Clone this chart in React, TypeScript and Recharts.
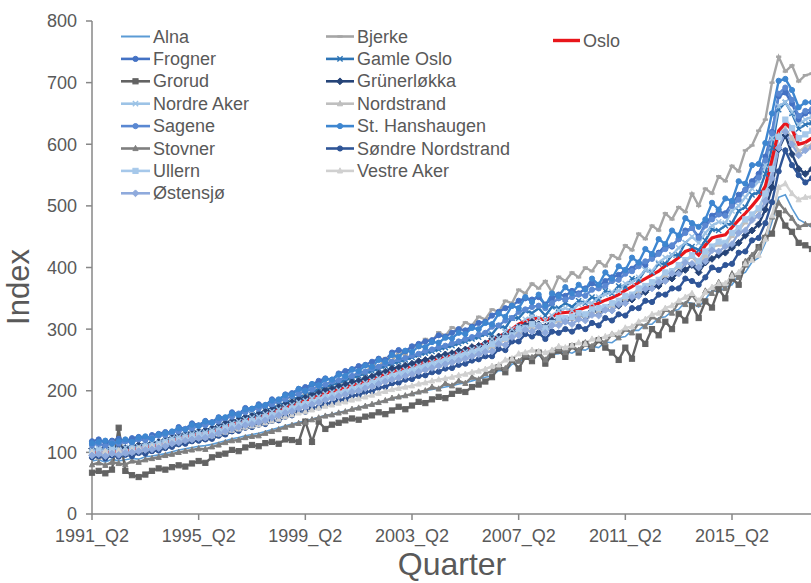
import React from 'react';
import { LineChart, Line, XAxis, YAxis, Legend, Label } from 'recharts';

// Quarter categories 1991_Q2 .. 2018_Q2
const quarters: string[] = [];
for (let y = 1991; y <= 2018; y++) {
  for (let q = 1; q <= 4; q++) {
    if (y === 1991 && q < 2) continue;
    if (y === 2018 && q > 2) continue;
    quarters.push(`${y}_Q${q}`);
  }
}
const xTickLabels = ['1991_Q2', '1995_Q2', '1999_Q2', '2003_Q2', '2007_Q2', '2011_Q2', '2015_Q2'];
const yTicks = [0, 100, 200, 300, 400, 500, 600, 700, 800];

const alna = [86,88,84,89,86,88,90,89,93,94,
96,98,101,104,106,108,110,111,113,116,
119,122,124,127,129,131,134,137,140,143,
146,149,151,154,157,160,162,165,167,170,
173,175,178,181,184,187,189,192,194,197,
200,202,204,206,208,211,213,216,219,222,
224,233,232,243,246,254,252,258,250,259,
260,264,261,267,266,272,270,279,278,286,
288,298,298,308,308,318,320,329,332,344,
342,336,348,363,360,368,372,388,392,409,
416,440,474,514,518,496,478,472,465];

const bjerke = [95,90,99,93,100,95,103,98,106,104,
110,108,118,114,124,120,129,125,136,133,
145,141,152,148,160,155,168,163,176,171,
186,181,195,190,205,199,213,208,223,218,
233,228,243,238,253,249,263,258,274,270,
284,280,295,289,303,298,311,306,320,316,
332,328,346,342,364,358,374,366,378,360,
385,378,392,384,400,394,410,402,420,414,
436,428,455,446,468,460,488,478,498,490,
520,500,528,520,548,540,565,556,590,598,
622,640,700,742,718,728,702,712,715];

const frogner = [118,121,116,119,122,118,123,125,121,128,
130,133,131,141,138,147,144,151,149,157,
155,165,162,172,170,178,176,186,184,194,
196,203,206,210,216,220,218,228,232,235,
240,242,247,252,250,262,266,264,272,276,
280,282,290,288,294,300,298,304,310,312,
322,328,334,338,346,350,348,352,340,350,
356,354,362,358,366,374,370,378,384,388,
396,398,408,404,418,424,436,434,446,460,
464,450,470,484,490,488,504,518,526,540,
552,580,620,678,684,666,640,650,652];

const gamleOslo = [98,102,97,103,101,99,106,104,108,110,
113,114,121,120,128,127,132,133,137,140,
146,148,154,155,161,162,168,171,177,180,
186,189,194,197,203,206,210,213,217,221,
224,228,232,236,240,244,247,250,254,258,
261,264,267,270,273,277,280,284,287,292,
292,305,302,318,318,330,326,334,322,336,
334,342,336,346,342,352,348,362,358,370,
368,382,380,396,392,406,406,420,420,440,
434,428,444,462,460,468,472,492,498,518,
522,552,594,656,668,650,625,632,635];

const grorud = [67,70,66,72,140,70,63,60,64,70,
74,72,76,79,77,82,86,83,92,96,
98,104,102,108,112,110,115,117,114,121,
120,117,150,117,150,138,145,148,152,155,
153,158,160,165,162,168,174,170,176,182,
180,186,190,188,195,200,198,206,210,215,
222,238,230,250,236,255,248,262,244,258,
265,255,272,262,276,268,282,270,262,250,
270,252,288,276,300,290,312,300,325,314,
338,318,345,335,365,350,382,372,405,415,
433,448,455,488,468,458,440,436,430];

const grunerlokka = [106,104,108,105,109,107,110,112,113,116,
117,121,124,128,130,133,134,136,139,143,
147,151,153,157,159,162,166,170,173,178,
181,186,188,193,196,201,203,207,210,214,
216,220,223,228,231,236,238,241,244,248,
250,253,256,259,261,265,267,271,273,277,
284,288,292,296,304,306,312,308,304,314,
316,314,318,324,320,330,328,332,340,338,
346,348,356,360,368,370,380,382,392,396,
404,392,408,414,420,424,432,440,452,460,
470,494,530,592,615,584,560,552,560];

const nordreAker = [104,106,103,107,105,108,110,109,113,115,
116,119,123,125,128,130,132,133,136,140,
143,147,150,153,156,158,162,166,170,174,
177,181,184,188,191,195,198,201,204,208,
210,213,217,221,225,229,231,234,237,241,
243,247,250,253,256,260,263,267,270,274,
284,286,296,300,304,316,320,318,314,322,
330,334,330,340,344,342,352,356,360,362,
374,376,384,396,394,408,416,420,432,440,
450,440,456,468,474,472,492,500,514,528,
540,566,610,662,668,652,632,640,645];

const nordstrand = [94,96,93,97,95,98,99,101,103,105,
106,110,113,116,119,121,123,124,127,130,
134,138,141,144,147,149,153,156,160,164,
168,172,175,179,182,186,189,192,195,199,
201,205,208,212,216,219,222,225,228,232,
235,238,241,244,247,251,254,258,261,265,
272,276,284,286,296,300,304,306,300,308,
314,314,318,320,322,326,330,334,338,343,
350,354,362,368,374,378,388,394,402,410,
418,404,420,432,438,436,452,460,474,484,
494,520,560,614,625,610,588,596,600];

const sagene = [112,114,110,116,114,118,116,121,120,124,
127,128,133,134,138,139,143,144,148,150,
156,158,163,165,170,171,176,178,184,186,
192,195,200,202,208,210,215,217,222,224,
229,231,236,239,244,247,251,253,257,260,
265,267,271,273,277,280,284,287,291,294,
304,306,314,318,328,332,336,338,334,342,
350,348,352,356,354,364,366,370,378,380,
390,394,402,410,414,422,430,436,446,456,
464,448,468,478,486,484,500,510,526,534,
546,574,618,682,692,672,646,654,657];

const stHanshaugen = [115,117,119,114,118,121,117,124,126,122,
129,131,134,139,137,145,143,150,148,156,
157,163,161,170,171,176,177,184,186,193,
194,203,200,211,209,219,218,226,224,234,
232,241,239,250,247,258,255,265,263,272,
271,279,278,286,285,294,292,302,300,310,
308,325,320,338,334,352,344,356,338,358,
354,368,358,372,364,382,372,392,382,402,
396,416,408,430,422,446,438,460,452,480,
472,466,478,505,494,512,508,540,536,566,
568,602,650,703,706,688,660,668,668];

const stovner = [80,83,79,84,82,80,86,84,88,90,
92,95,97,100,102,104,106,105,109,112,
116,119,120,124,126,127,131,134,137,141,
144,147,149,153,156,159,161,164,166,170,
172,175,178,181,184,188,190,192,195,198,
200,206,203,212,208,216,212,222,218,228,
232,238,236,250,248,258,254,262,250,264,
268,262,272,266,278,272,284,278,292,286,
300,294,310,304,320,314,332,326,344,340,
356,340,362,358,376,366,390,384,410,420,
432,450,482,505,492,480,465,470,470];

const sondreNordstrand = [92,94,90,95,93,96,94,99,98,102,
103,107,109,113,114,118,119,121,122,127,
129,134,135,140,141,145,146,151,152,158,
160,166,166,172,173,179,180,185,186,192,
193,198,199,205,206,212,213,218,219,224,
225,230,231,236,237,242,244,249,251,256,
256,268,266,280,280,292,288,294,284,296,
294,300,296,304,300,310,306,318,314,324,
322,334,334,346,344,356,356,366,366,382,
378,372,384,400,396,404,406,424,426,444,
448,472,506,556,590,566,550,538,545];

const ullern = [100,103,99,104,102,100,106,105,109,110,
113,116,119,121,124,126,128,129,132,135,
139,143,145,148,151,153,157,160,164,168,
171,175,178,182,185,189,192,195,198,202,
205,208,212,216,219,223,226,229,232,236,
239,242,245,248,251,255,258,262,265,269,
276,280,286,290,300,302,308,306,302,310,
318,318,320,326,324,332,334,336,342,346,
354,356,366,370,376,380,392,394,404,412,
420,410,426,434,442,440,456,464,478,486,
496,520,560,612,640,626,610,616,622];

const vestreAker = [100,98,102,99,103,101,104,106,107,109,
110,113,116,118,121,122,124,125,127,130,
133,136,138,141,143,145,148,151,154,158,
161,164,166,169,172,175,177,180,182,185,
187,190,193,196,199,202,204,206,208,211,
213,216,218,220,222,225,227,230,232,235,
240,242,250,252,260,262,266,264,262,266,
272,270,274,278,276,284,284,288,292,294,
302,304,312,316,324,326,334,338,346,352,
358,346,360,368,374,374,386,392,406,412,
420,446,484,530,536,520,510,514,515];

const ostensjo = [95,97,94,98,96,99,100,102,104,105,
107,110,114,116,119,121,123,124,127,131,
134,138,141,144,146,149,152,156,160,164,
167,171,174,178,181,185,188,191,194,198,
200,204,207,211,215,218,221,224,227,231,
234,237,240,243,246,249,252,256,259,263,
264,276,274,287,290,299,296,304,294,306,
306,312,308,316,314,323,322,331,330,340,
342,352,354,365,366,376,378,390,390,408,
406,400,410,428,426,434,438,456,460,477,
484,508,545,594,620,600,582,590,595];

const oslo = [100,100,100,101,102,103,105,107,109,111,
112,116,120,123,126,128,130,131,134,138,
142,146,149,152,155,157,161,165,169,173,
177,181,184,188,192,196,199,202,205,209,
212,215,219,223,227,231,234,237,240,244,
247,250,253,256,259,263,266,270,273,277,
282,288,293,300,308,313,316,318,314,320,
326,327,328,331,335,338,342,347,351,356,
363,369,376,382,388,394,403,408,416,426,
430,420,436,448,451,453,465,477,488,500,
513,532,575,622,634,624,600,603,610];

type Shape = 'none' | 'circle' | 'square' | 'diamond' | 'triangle' | 'x' | 'plus' | 'dash';
interface Series { key: string; name: string; values: number[]; color: string; width: number; marker: Shape; }

const series: Series[] = [
  { key: 'alna', name: 'Alna', values: alna, color: '#5B9BD5', width: 1.6, marker: 'none' },
  { key: 'bjerke', name: 'Bjerke', values: bjerke, color: '#A5A5A5', width: 2.4, marker: 'dash' },
  { key: 'frogner', name: 'Frogner', values: frogner, color: '#4472C4', width: 2.4, marker: 'circle' },
  { key: 'gamleOslo', name: 'Gamle Oslo', values: gamleOslo, color: '#2E75B6', width: 2.4, marker: 'x' },
  { key: 'grorud', name: 'Grorud', values: grorud, color: '#636363', width: 2.4, marker: 'square' },
  { key: 'grunerlokka', name: 'Grünerløkka', values: grunerlokka, color: '#264478', width: 2.4, marker: 'diamond' },
  { key: 'nordreAker', name: 'Nordre Aker', values: nordreAker, color: '#9DC3E6', width: 2.4, marker: 'x' },
  { key: 'nordstrand', name: 'Nordstrand', values: nordstrand, color: '#BFBFBF', width: 2.4, marker: 'triangle' },
  { key: 'sagene', name: 'Sagene', values: sagene, color: '#5A88D2', width: 2.4, marker: 'circle' },
  { key: 'stHanshaugen', name: 'St. Hanshaugen', values: stHanshaugen, color: '#3E86D0', width: 2.4, marker: 'circle' },
  { key: 'stovner', name: 'Stovner', values: stovner, color: '#7F7F7F', width: 2.4, marker: 'triangle' },
  { key: 'sondreNordstrand', name: 'Søndre Nordstrand', values: sondreNordstrand, color: '#2F5597', width: 2.4, marker: 'circle' },
  { key: 'ullern', name: 'Ullern', values: ullern, color: '#A6C8EA', width: 2.4, marker: 'square' },
  { key: 'vestreAker', name: 'Vestre Aker', values: vestreAker, color: '#D0D0D0', width: 2.4, marker: 'triangle' },
  { key: 'ostensjo', name: 'Østensjø', values: ostensjo, color: '#8FAADC', width: 2.4, marker: 'diamond' },
  { key: 'oslo', name: 'Oslo', values: oslo, color: '#E8161B', width: 3.2, marker: 'none' },
];

const legendCol1 = ['Alna', 'Frogner', 'Grorud', 'Nordre Aker', 'Sagene', 'Stovner', 'Ullern', 'Østensjø'];
const legendCol2 = ['Bjerke', 'Gamle Oslo', 'Grünerløkka', 'Nordstrand', 'St. Hanshaugen', 'Søndre Nordstrand', 'Vestre Aker'];
const legendCol3 = ['Oslo'];

const data = quarters.map((q, i) => {
  const row: Record<string, any> = { q };
  series.forEach((s) => { row[s.key] = s.values[i]; });
  return row;
});

const FONT = '"Liberation Sans", Arial, sans-serif';
const TEXT = '#595959';
const AXIS = '#878787';

function MarkerShape({ shape, cx, cy, color, s }: { shape: Shape; cx: number; cy: number; color: string; s: number }) {
  switch (shape) {
    case 'circle':
      return <circle cx={cx} cy={cy} r={s} fill={color} stroke={color} strokeWidth={1} />;
    case 'square':
      return <rect x={cx - s} y={cy - s} width={2 * s} height={2 * s} fill={color} stroke={color} strokeWidth={1} />;
    case 'diamond':
      return <polygon points={`${cx},${cy - s - 0.8} ${cx + s + 0.8},${cy} ${cx},${cy + s + 0.8} ${cx - s - 0.8},${cy}`} fill={color} stroke={color} strokeWidth={1} />;
    case 'triangle':
      return <polygon points={`${cx},${cy - s - 0.5} ${cx + s},${cy + s - 0.5} ${cx - s},${cy + s - 0.5}`} fill={color} stroke={color} strokeWidth={1} />;
    case 'x':
      return (
        <g stroke={color} strokeWidth={1.4}>
          <line x1={cx - s} y1={cy - s} x2={cx + s} y2={cy + s} />
          <line x1={cx - s} y1={cy + s} x2={cx + s} y2={cy - s} />
        </g>
      );
    case 'plus':
      return (
        <g stroke={color} strokeWidth={1.4}>
          <line x1={cx - s} y1={cy} x2={cx + s} y2={cy} />
          <line x1={cx} y1={cy - s} x2={cx} y2={cy + s} />
        </g>
      );
    case 'dash':
      return <line x1={cx - s} y1={cy} x2={cx + s} y2={cy} stroke={color} strokeWidth={2.4} />;
    default:
      return null;
  }
}

const makeDot = (shape: Shape, color: string) => (props: any) => {
  const { cx, cy, index } = props;
  if (cx == null || cy == null || isNaN(cx) || isNaN(cy)) return <g key={`d${index}`} />;
  return (
    <g key={`d${index}`}>
      <MarkerShape shape={shape} cx={cx} cy={cy} color={color} s={2.6} />
    </g>
  );
};

const byName = (n: string) => series.find((s) => s.name === n) as Series;

const LegendItem = ({ name, x, y, len }: { name: string; x: number; y: number; len: number }) => {
  const s = byName(name);
  return (
    <g>
      <line x1={x} y1={y} x2={x + len} y2={y} stroke={s.color} strokeWidth={s.key === 'oslo' ? 3.4 : s.key === 'alna' ? 2 : 2.6} />
      {s.marker !== 'none' && <MarkerShape shape={s.marker} cx={x + len / 2} cy={y} color={s.color} s={2.6} />}
      <text x={x + len + 3} y={y} dominantBaseline="central" fontFamily={FONT} fontSize={18} fill={TEXT}>{name}</text>
    </g>
  );
};

const renderLegend = () => (
  <svg width={811} height={210} style={{ display: 'block' }}>
    {legendCol1.map((n, i) => <LegendItem key={n} name={n} x={121} y={36.5 + i * 22.4} len={29} />)}
    {legendCol2.map((n, i) => <LegendItem key={n} name={n} x={326} y={36.5 + i * 22.4} len={28} />)}
    {legendCol3.map((n, i) => <LegendItem key={n} name={n} x={553} y={40.5 + i * 22.4} len={27} />)}
  </svg>
);

export default function App() {
  return (
    <div style={{ position: 'absolute', left: 0, top: 0, width: 811, height: 583, overflow: 'hidden', background: '#ffffff' }}>
      <LineChart width={830} height={583} data={data} margin={{ top: 21, right: 18, bottom: 0, left: 0 }}>
        <XAxis
          dataKey="q"
          type="category"
          ticks={xTickLabels}
          interval={0}
          height={69}
          tickSize={6}
          tickMargin={9}
          stroke={AXIS}
          strokeWidth={1.5}
          tick={{ fill: TEXT, fontSize: 18, fontFamily: FONT }}
        >
          <Label
            content={() => (
              <text x={452} y={575} textAnchor="middle" fontFamily={FONT} fontSize={32} fill={TEXT}>Quarter</text>
            )}
          />
        </XAxis>
        <YAxis
          type="number"
          domain={[0, 800]}
          ticks={yTicks}
          interval={0}
          width={92}
          tickSize={6}
          tickMargin={9}
          stroke={AXIS}
          strokeWidth={1.5}
          tick={{ fill: TEXT, fontSize: 18, fontFamily: FONT }}
        >
          <Label
            content={() => (
              <text x={29} y={287} transform="rotate(-90 29 287)" textAnchor="middle" fontFamily={FONT} fontSize={31} fill={TEXT}>Index</text>
            )}
          />
        </YAxis>
        <Legend
          content={renderLegend}
          layout="horizontal"
          verticalAlign="middle"
          align="center"
          wrapperStyle={{ left: 0, top: 0, width: 811, height: 210, pointerEvents: 'none' }}
        />
        {series.map((s) => (
          <Line
            key={s.key}
            dataKey={s.key}
            name={s.name}
            type="linear"
            stroke={s.color}
            strokeWidth={s.width}
            dot={s.marker === 'none' ? false : makeDot(s.marker, s.color)}
            activeDot={false}
            isAnimationActive={false}
          />
        ))}
      </LineChart>
    </div>
  );
}
